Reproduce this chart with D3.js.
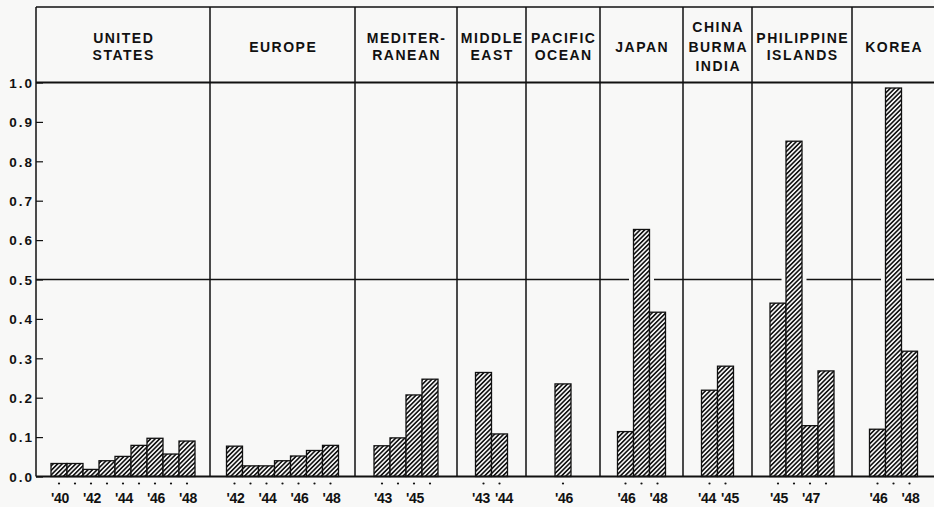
<!DOCTYPE html>
<html><head><meta charset="utf-8">
<script src="https://cdn.jsdelivr.net/npm/d3@7"></script>
<style>
body{margin:0;background:#f8f8f7}
svg{display:block}
text{font-family:"Liberation Sans",Arial,sans-serif;font-weight:bold;fill:#111}
</style>
</head><body>
<svg id="c" width="934" height="507"></svg>
<script>
// ---------- data ----------
const regions = ["UNITED STATES","EUROPE","MEDITERRANEAN","MIDDLE EAST","PACIFIC OCEAN","JAPAN","CHINA BURMA INDIA","PHILIPPINE ISLANDS","KOREA"];
const headerLines = [["UNITED","STATES"],["EUROPE"],["MEDITER-","RANEAN"],["MIDDLE","EAST"],["PACIFIC","OCEAN"],["JAPAN"],["CHINA","BURMA","INDIA"],["PHILIPPINE","ISLANDS"],["KOREA"]];
const firstYears = [1940,1942,1943,1943,1946,1946,1944,1945,1946];

const unitedStates      = [0.033,0.033,0.018,0.040,0.051,0.079,0.097,0.057,0.090];
const europe            = [0.077,0.027,0.027,0.040,0.052,0.066,0.079];
const mediterranean     = [0.078,0.098,0.207,0.247];
const middleEast        = [0.264,0.108];
const pacificOcean      = [0.235];
const japan             = [0.114,0.627,0.417];
const chinaBurmaIndia   = [0.219,0.280];
const philippineIslands = [0.440,0.851,0.129,0.268];
const korea             = [0.120,0.986,0.318];
const seriesValues = [unitedStates,europe,mediterranean,middleEast,pacificOcean,japan,chinaBurmaIndia,philippineIslands,korea];

const tickLabels = [["'40","'42","'44","'46","'48"],["'42","'44","'46","'48"],["'43","'45"],["'43","'44"],["'46"],["'46","'48"],["'44","'45"],["'45","'47"],["'46","'48"]];
const yTicks = [0,0.1,0.2,0.3,0.4,0.5,0.6,0.7,0.8,0.9,1.0];

// ---------- layout ----------
const W = 934, H = 507;
const panelEdges = [36,210,355,457,526,600,683,752,852,935];
const topY = 7, baseY = 476.5, oneY = 82.5;
const barW = 16;

const svg = d3.select("#c");
const defs = svg.append("defs");
const P = 3.2;
const pat = defs.append("pattern").attr("id","hatch").attr("patternUnits","userSpaceOnUse")
  .attr("width",P).attr("height",P).attr("patternTransform","rotate(45)");
pat.append("rect").attr("width",P).attr("height",P).attr("fill","#f4f4f4");
pat.append("line").attr("x1",0.8).attr("y1",0).attr("x2",0.8).attr("y2",P)
  .attr("stroke","#151515").attr("stroke-width",1.6);

const y = d3.scaleLinear().domain([0,1]).range([baseY,oneY]);

const panels = regions.map((r,i)=>{
  const vals = seriesValues[i];
  const years = vals.map((v,j)=>firstYears[i]+j);
  const cx = (panelEdges[i]+panelEdges[i+1])/2;
  const x = d3.scaleBand().domain(years).range([cx - vals.length*barW/2, cx + vals.length*barW/2]).padding(0);
  return {name:r, lines:headerLines[i], vals, years, x, left:panelEdges[i], right:panelEdges[i+1], cx, labels:tickLabels[i]};
});

// 0.5 reference line with gaps around bars that cross it
const gapM = 4.5;
const gaps = [];
panels.forEach(p=>p.vals.forEach((v,j)=>{ if(v>0.5){ const bx=p.x(p.years[j]); gaps.push([bx-gapM, bx+barW+gapM]); }}));
gaps.sort((a,b)=>a[0]-b[0]);
let segs=[], cur=panelEdges[0];
gaps.forEach(g=>{ segs.push([cur,g[0]]); cur=g[1]; });
segs.push([cur,W]);
svg.append("g").selectAll("line").data(segs).join("line")
  .attr("x1",d=>d[0]).attr("x2",d=>d[1]).attr("y1",y(0.5)).attr("y2",y(0.5))
  .attr("stroke","#111").attr("stroke-width",1.6);

// 1.0 line
svg.append("line").attr("x1",panelEdges[0]).attr("x2",W).attr("y1",y(1)).attr("y2",y(1))
  .attr("stroke","#111").attr("stroke-width",1.8);

// top border
svg.append("line").attr("x1",panelEdges[0]).attr("x2",W).attr("y1",topY).attr("y2",topY)
  .attr("stroke","#111").attr("stroke-width",1.5);

// panel separators
svg.append("g").selectAll("line").data(panelEdges.slice(1,-1)).join("line")
  .attr("x1",d=>d).attr("x2",d=>d).attr("y1",topY).attr("y2",baseY)
  .attr("stroke","#111").attr("stroke-width",1.5);

// left axis
svg.append("line").attr("x1",panelEdges[0]).attr("x2",panelEdges[0]).attr("y1",topY).attr("y2",baseY)
  .attr("stroke","#111").attr("stroke-width",1.5);
const ax = svg.append("g").attr("transform",`translate(${panelEdges[0]},0)`)
  .call(d3.axisLeft(y).tickValues(yTicks).tickFormat(d3.format(".1f")).tickSizeInner(-7).tickSizeOuter(0).tickPadding(2));
ax.select(".domain").remove();
ax.selectAll(".tick line").attr("stroke","#111").attr("stroke-width",1.2);
ax.selectAll(".tick text").attr("font-size",13.5).attr("font-family","Liberation Sans, Arial, sans-serif")
  .attr("font-weight","bold").attr("fill","#111").attr("letter-spacing",2).attr("dy","0.36em");

// bars
panels.forEach(p=>{
  const g = svg.append("g");
  g.selectAll("rect").data(p.vals).join("rect")
    .attr("x",(d,j)=>p.x(p.years[j])).attr("width",p.x.bandwidth())
    .attr("y",d=>y(d)).attr("height",d=>y(0)-y(d))
    .attr("fill","url(#hatch)").attr("stroke","#111").attr("stroke-width",1.3);
  g.selectAll("circle").data(p.years).join("circle")
    .attr("cx",d=>p.x(d)+barW/2).attr("cy",483.5).attr("r",1.1).attr("fill","#111");
  const lYears = p.labels.map(d=>1900+parseInt(d.slice(1)));
  const adjacent = lYears.length===2 && lYears[1]-lYears[0]===1;
  g.selectAll("text.xl").data(p.labels).join("text").attr("class","xl")
    .attr("x",(d,k)=>p.x(lYears[k])+barW/2+1+(adjacent?(k===0?-3.5:3.5):0)).attr("y",503)
    .attr("text-anchor","middle").attr("font-size",14).attr("letter-spacing",-0.3).text(d=>d);
  const n = p.lines.length, sp = n===3 ? 19.5 : 17.5, cy = 46.5;
  g.selectAll("text.hd").data(p.lines).join("text").attr("class","hd")
    .attr("x",p.cx+0.7).attr("y",(d,k)=>cy+(k-(n-1)/2)*sp+5)
    .attr("text-anchor","middle").attr("font-size",14).attr("letter-spacing",1.5).text(d=>d);
});

// baseline
svg.append("line").attr("x1",panelEdges[0]).attr("x2",W).attr("y1",baseY).attr("y2",baseY)
  .attr("stroke","#111").attr("stroke-width",2);
</script>
</body></html>
